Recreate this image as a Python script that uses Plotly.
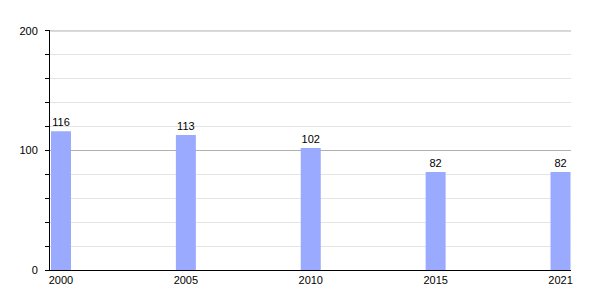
import plotly.graph_objects as go

years = ["2000", "2005", "2010", "2015", "2021"]
values = [116, 113, 102, 82, 82]
y_ticks = [0, 100, 200]

fig = go.Figure(go.Bar(
    x=years, y=values, width=0.16,
    marker=dict(color="#99aaff", line=dict(width=0)),
    text=[str(v) for v in values], textposition="outside",
    textfont=dict(family="Liberation Sans, Arial", size=11, color="#000"),
    cliponaxis=False,
))

fig.update_layout(
    width=600, height=300,
    margin=dict(l=50, r=29, t=30, b=30),
    paper_bgcolor="white", plot_bgcolor="white",
    font=dict(family="Liberation Sans, Arial", size=11, color="#000"),
    showlegend=False,
    xaxis=dict(
        type="category", range=[-0.088, 4.084],
        showline=True, linecolor="#000", linewidth=1,
        ticks="", showgrid=False, tickfont=dict(size=11),
    ),
    yaxis=dict(
        range=[0, 200.8], tickvals=y_ticks,
        showline=True, linecolor="#000", linewidth=1,
        ticks="outside", ticklen=4, tickcolor="#000",
        ticklabelstandoff=5,
        showgrid=True, gridcolor="#b0b0b0", gridwidth=1,
        zeroline=False,
        minor=dict(dtick=20, ticks="outside", ticklen=4, tickcolor="#000",
                   showgrid=True, gridcolor="#e4e4e4", gridwidth=1),
    ),
)

# major gridline at the top tick (plotly may omit it at the edge)
fig.add_shape(type="line", xref="paper", x0=0, x1=1, yref="y",
              y0=y_ticks[-1], y1=y_ticks[-1],
              line=dict(color="#b0b0b0", width=1), layer="below")

fig.write_html("out.html")
